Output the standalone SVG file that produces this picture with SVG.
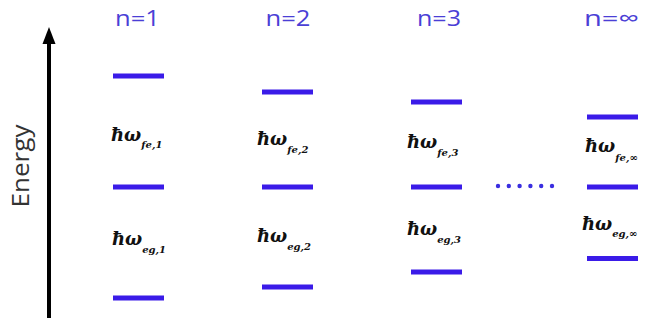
<svg xmlns="http://www.w3.org/2000/svg" width="669" height="320" viewBox="0 0 669 320">
<style>
.hdr{font-family:"Open Sans","Liberation Sans",sans-serif;font-size:22px;fill:#4b3fd6;text-anchor:middle}
.bar{fill:#3a1be8}
.lbl{font-family:"DejaVu Serif","Liberation Serif",serif;font-style:italic;font-weight:bold;font-size:18px;fill:#111}
.sub{font-size:10px}
.dot{fill:#3a2ee0}
</style>
<rect width="669" height="320" fill="#fff"/>
<g id="axis">
<line x1="49" y1="318" x2="49" y2="43" stroke="#000" stroke-width="4"/>
<path d="M42.5,44 L49,27 L55.5,44 Z" fill="#000"/>
<text x="29" y="166" transform="rotate(-90 29 166)" font-family="Open Sans, Liberation Sans, sans-serif" font-size="23" fill="#333" text-anchor="middle" textLength="83" lengthAdjust="spacingAndGlyphs">Energy</text>
</g>
<g id="col1">
<text class="hdr" x="137.5" y="26" textLength="45" lengthAdjust="spacingAndGlyphs">n=1</text>
<rect class="bar" x="113" y="73.5" width="51" height="5"/>
<rect class="bar" x="113" y="184.5" width="51" height="5"/>
<rect class="bar" x="113" y="295.5" width="51" height="5"/>
<text class="lbl" x="111" y="141">&#295;&#969;<tspan class="sub" dy="7">fe,1</tspan></text>
<text class="lbl" x="112" y="245">&#295;&#969;<tspan class="sub" dy="8">eg,1</tspan></text>
</g>
<g id="col2">
<text class="hdr" x="288" y="26" textLength="45" lengthAdjust="spacingAndGlyphs">n=2</text>
<rect class="bar" x="262" y="89.5" width="51" height="5"/>
<rect class="bar" x="262" y="184.5" width="51" height="5"/>
<rect class="bar" x="262" y="284.5" width="51" height="5"/>
<text class="lbl" x="257" y="145">&#295;&#969;<tspan class="sub" dy="8">fe,2</tspan></text>
<text class="lbl" x="257" y="242">&#295;&#969;<tspan class="sub" dy="8">eg,2</tspan></text>
</g>
<g id="col3">
<text class="hdr" x="439" y="26" textLength="44" lengthAdjust="spacingAndGlyphs">n=3</text>
<rect class="bar" x="411" y="99.5" width="51" height="5"/>
<rect class="bar" x="411" y="184.5" width="51" height="5"/>
<rect class="bar" x="411" y="269.5" width="51" height="5"/>
<text class="lbl" x="407" y="148">&#295;&#969;<tspan class="sub" dy="8">fe,3</tspan></text>
<text class="lbl" x="407" y="235">&#295;&#969;<tspan class="sub" dy="8">eg,3</tspan></text>
</g>
<g id="dots">
<circle class="dot" cx="498" cy="186" r="2.2"/>
<circle class="dot" cx="508.8" cy="186" r="2.2"/>
<circle class="dot" cx="519.6" cy="186" r="2.2"/>
<circle class="dot" cx="530.4" cy="186" r="2.2"/>
<circle class="dot" cx="541.2" cy="186" r="2.2"/>
<circle class="dot" cx="552" cy="186" r="2.2"/>
</g>
<g id="col4">
<text class="hdr" x="611.5" y="26" textLength="55" lengthAdjust="spacingAndGlyphs">n=&#8734;</text>
<rect class="bar" x="587" y="114.5" width="51" height="5"/>
<rect class="bar" x="587" y="184.5" width="51" height="5"/>
<rect class="bar" x="587" y="256" width="51" height="5"/>
<text class="lbl" x="585" y="152">&#295;&#969;<tspan class="sub" dy="9">fe,&#8734;</tspan></text>
<text class="lbl" x="582" y="230">&#295;&#969;<tspan class="sub" dy="7">eg,&#8734;</tspan></text>
</g>
<g id="connectors"></g>
</svg>
